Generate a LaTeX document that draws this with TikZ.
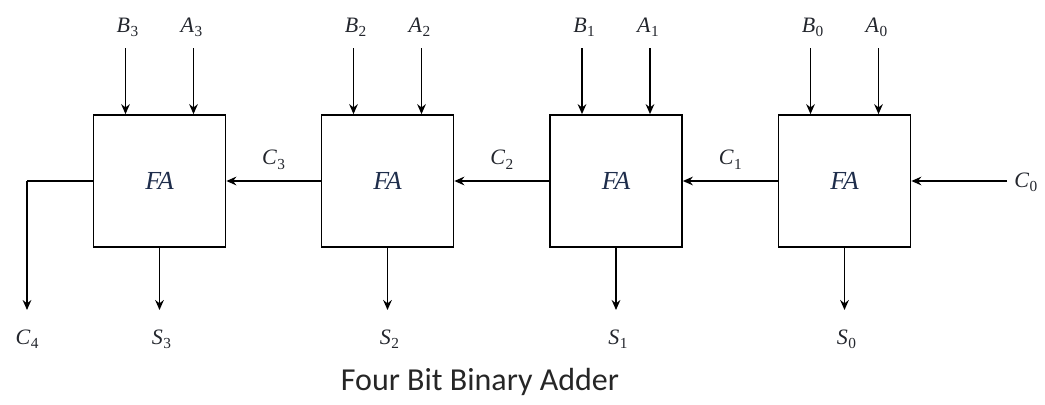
\documentclass[tikz,border=0pt]{standalone}
\usepackage{fontspec}
\setmainfont{Liberation Serif}
\newfontfamily\titlefont{Carlito}
\usetikzlibrary{arrows.meta}
\newcommand\sig[2]{\textit{#1}\kern0.3pt\raisebox{-0.22em}{\fontsize{11.5}{12}\selectfont #2}}
\definecolor{lbl}{RGB}{35,38,45}
\definecolor{falbl}{RGB}{30,45,75}
\tikzset{
  x=0.75pt, y=-0.75pt,
  fabox/.style={draw, line width=1.3pt, minimum width=99pt, minimum height=99pt, inner sep=0pt,
    font=\fontsize{19.5}{21}\selectfont\itshape, text=falbl},
  wire/.style={line width=1.3pt, -{Stealth[length=7.5pt,width=6.5pt,inset=2.5pt]}},
  plain/.style={line width=1.3pt},
  sigl/.style={font=\fontsize{16.5}{18}\selectfont, text=lbl, inner sep=0pt, anchor=base},
}
\begin{document}
\begin{tikzpicture}
\useasboundingbox (0,0) rectangle (1045,404);
% boxes
\node[fabox] (b3) at (159.5,181) {FA};
\node[fabox] (b2) at (387.5,181) {FA};
\node[fabox] (b1) at (616,181) {FA};
\node[fabox] (b0) at (844.5,181) {FA};
% inputs
\foreach \b/\i/\cx in {b3/3/159.5, b2/2/387.5, b1/1/616, b0/0/844.5}{
  \coordinate (bt\i) at (\cx-34,48);
  \coordinate (at\i) at (\cx+34,48);
  \node[sigl] (Bl\i) at (\cx-32,32) {\sig{B}{\i}};
  \node[sigl] (Al\i) at (\cx+32,32) {\sig{A}{\i}};
  \draw[wire] (bt\i) -- (bt\i |- \b.north);
  \draw[wire] (at\i) -- (at\i |- \b.north);
  \coordinate (so\i) at (\cx,310);
  \draw[wire] (\b.south) -- (so\i);
  \node[sigl] (Sl\i) at (\cx+2,344) {\sig{S}{\i}};
}
% carries
\draw[wire] (b0.west) -- node[sigl, yshift=12.5pt] (C1l) {\sig{C}{1}} (b1.east);
\draw[wire] (b1.west) -- node[sigl, yshift=12.5pt] (C2l) {\sig{C}{2}} (b2.east);
\draw[wire] (b2.west) -- node[sigl, yshift=12.5pt] (C3l) {\sig{C}{3}} (b3.east);
\coordinate (c0s) at (1007,181);
\draw[wire] (c0s) -- (b0.east);
\node[sigl, anchor=base west] (C0l) at (1014,187) {\sig{C}{0}};
\coordinate (c4k) at (27,181);
\coordinate (c4e) at (27,310);
\draw[plain] (b3.west) -- (c4k);
\draw[wire] (c4k) -- (c4e);
\node[sigl] (C4l) at (27,344) {\sig{C}{4}};
% title
\node[font=\titlefont\fontsize{24}{26}\selectfont, text=black!85, anchor=base, inner sep=0pt] (title) at (480,390) {Four Bit Binary Adder};
\end{tikzpicture}
\end{document}
